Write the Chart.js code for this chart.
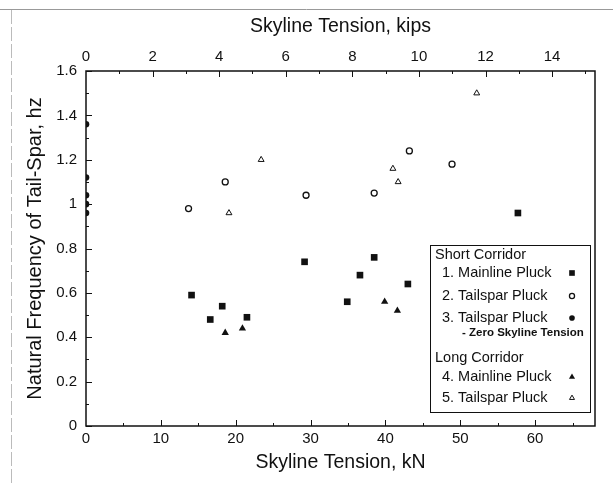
<!DOCTYPE html>
<html>
<head>
<meta charset="utf-8">
<script src="https://cdn.jsdelivr.net/npm/chart.js@4/dist/chart.umd.min.js"></script>
<style>
    html, body { margin: 0; padding: 0; background: #fff; }
    #wrap { width: 613px; height: 483px; }
</style>
</head>
<body>
<div id="wrap"><canvas id="freq-chart" width="613" height="483"></canvas></div>
<script>
// Skyline tension (kN) vs natural frequency (hz)
const shortMainX = [14.1, 16.6, 18.2, 21.5, 29.2, 34.9, 36.6, 38.5, 43.0, 57.7];
const shortMainY = [0.59, 0.48, 0.54, 0.49, 0.74, 0.56, 0.68, 0.76, 0.64, 0.96];
const shortTailX = [13.7, 18.6, 29.4, 38.5, 43.2, 48.9];
const shortTailY = [0.98, 1.10, 1.04, 1.05, 1.24, 1.18];
const zeroTailX = [0, 0, 0, 0, 0];
const zeroTailY = [1.36, 1.12, 1.04, 1.00, 0.96];
const longMainX = [18.6, 20.9, 39.9, 41.6];
const longMainY = [0.42, 0.44, 0.56, 0.52];
const longTailX = [19.1, 23.4, 41.0, 41.7, 52.2];
const longTailY = [0.96, 1.20, 1.16, 1.10, 1.50];

const kNTicks = [0, 10, 20, 30, 40, 50, 60];
const kipTicks = [0, 2, 4, 6, 8, 10, 12, 14];
const hzTicks = [0, 0.2, 0.4, 0.6, 0.8, 1.0, 1.2, 1.4, 1.6];
const KN_PER_KIP = 4.448;
const X_MAX = 68;

const toPoints = (xs, ys) => xs.map((x, i) => ({ x: x, y: ys[i] }));
const INK = '#111';
const FONT = '"Liberation Sans", Arial, sans-serif';

const series = [
    { label: '1. Mainline Pluck', data: toPoints(shortMainX, shortMainY), pointStyle: 'rect', pointRadius: 4.7, backgroundColor: INK, borderColor: INK, borderWidth: 0 },
    { label: '2. Tailspar Pluck', data: toPoints(shortTailX, shortTailY), pointStyle: 'circle', pointRadius: 3, backgroundColor: '#fff', borderColor: INK, borderWidth: 1.3 },
    { label: '3. Tailspar Pluck', data: toPoints(zeroTailX, zeroTailY), pointStyle: 'circle', pointRadius: 3.3, backgroundColor: INK, borderColor: INK, borderWidth: 0 },
    { label: '4. Mainline Pluck', data: toPoints(longMainX, longMainY), pointStyle: 'triangle', pointRadius: 4.2, backgroundColor: INK, borderColor: INK, borderWidth: 0 },
    { label: '5. Tailspar Pluck', data: toPoints(longTailX, longTailY), pointStyle: 'triangle', pointRadius: 3.4, backgroundColor: '#fff', borderColor: INK, borderWidth: 1 }
];

function setTicks(values) {
    return (scale) => { scale.ticks = values.map((v) => ({ value: v })); };
}

// Frame, inward tick marks, page edge lines and the boxed legend
const decorations = {
    id: 'decorations',
    beforeDraw(chart) {
        const ctx = chart.ctx;
        ctx.save();
        ctx.strokeStyle = '#999';
        ctx.lineWidth = 1;
        ctx.beginPath();
        ctx.moveTo(0, 9.5); ctx.lineTo(613, 9.5);
        ctx.stroke();
        ctx.strokeStyle = '#bbb';
        ctx.setLineDash([14, 3]);
        ctx.beginPath();
        ctx.moveTo(11.5, 10); ctx.lineTo(11.5, 483);
        ctx.stroke();
        ctx.restore();
    },
    afterDraw(chart) {
        const ctx = chart.ctx;
        const a = chart.chartArea;
        const sx = chart.scales.x, sx2 = chart.scales.x2, sy = chart.scales.y;
        ctx.save();
        ctx.strokeStyle = INK;
        ctx.lineWidth = 1.5;
        ctx.strokeRect(a.left, a.top, a.right - a.left, a.bottom - a.top);

        ctx.lineWidth = 1;
        ctx.beginPath();
        for (let v = 0; v <= 1.6001; v += 0.1) {
            const y = Math.round(sy.getPixelForValue(v)) + 0.5;
            const len = Math.round(v * 10) % 2 === 0 ? 6 : 3;
            ctx.moveTo(a.left, y); ctx.lineTo(a.left + len, y);
        }
        for (let v = 5; v < X_MAX; v += 5) {
            const x = Math.round(sx.getPixelForValue(v)) + 0.5;
            const len = v % 10 === 0 ? 6 : 3;
            ctx.moveTo(x, a.bottom); ctx.lineTo(x, a.bottom - len);
        }
        for (let v = 1; v <= 15; v += 1) {
            const x = Math.round(sx2.getPixelForValue(v)) + 0.5;
            const len = v % 2 === 0 ? 6 : 3;
            ctx.moveTo(x, a.top); ctx.lineTo(x, a.top + len);
        }
        ctx.stroke();

        // legend box
        const box = { left: 430, top: 245, right: 590, bottom: 412 };
        ctx.fillStyle = '#fff';
        ctx.fillRect(box.left, box.top, box.right - box.left, box.bottom - box.top);
        ctx.lineWidth = 1;
        ctx.strokeStyle = INK;
        ctx.strokeRect(box.left + 0.5, box.top + 0.5, box.right - box.left, box.bottom - box.top);

        ctx.fillStyle = INK;
        ctx.textBaseline = 'middle';
        ctx.textAlign = 'left';
        ctx.font = '14.5px ' + FONT;
        ctx.fillText('Short Corridor', 435, 255);
        ctx.fillText('Long Corridor', 435, 358);
        const rows = [[0, 273], [1, 296], [2, 318], [3, 377], [4, 398]];
        rows.forEach(([i, y]) => {
            const ds = series[i];
            ctx.font = '14.5px ' + FONT;
            ctx.fillStyle = INK;
            ctx.fillText(ds.label, 442, y);
            ctx.fillStyle = ds.backgroundColor;
            ctx.strokeStyle = ds.borderColor;
            ctx.lineWidth = ds.borderWidth;
            Chart.helpers.drawPoint(ctx, {
                pointStyle: ds.pointStyle,
                radius: ds.pointRadius * 0.85,
                borderWidth: ds.borderWidth,
                rotation: 0
            }, 572, y);
        });
        ctx.font = 'bold 11.5px ' + FONT;
        ctx.fillStyle = INK;
        ctx.fillText('- Zero Skyline Tension', 462, 333);
        ctx.restore();
    }
};

const ctx = document.getElementById('freq-chart');
const chart = new Chart(ctx, {
    type: 'scatter',
    data: { datasets: series },
    options: {
        responsive: false,
        animation: false,
        events: [],
        layout: { padding: { left: 0, right: 18, top: 0, bottom: 0 } },
        plugins: {
            legend: { display: false },
            tooltip: { enabled: false }
        },
        scales: {
            x: {
                type: 'linear', position: 'bottom', min: 0, max: X_MAX,
                afterBuildTicks: setTicks(kNTicks),
                afterFit: (s) => { s.height = 57; },
                grid: { display: false, drawTicks: false },
                border: { display: false },
                ticks: { color: INK, font: { family: FONT, size: 15 }, padding: 4, maxRotation: 0, autoSkip: false },
                title: { display: true, text: 'Skyline Tension, kN', color: INK, font: { family: FONT, size: 19.5 }, padding: { top: 0, bottom: 9 } }
            },
            x2: {
                type: 'linear', position: 'top', min: 0, max: X_MAX / KN_PER_KIP,
                afterBuildTicks: setTicks(kipTicks),
                afterFit: (s) => { s.height = 71; },
                grid: { display: false, drawTicks: false },
                border: { display: false },
                ticks: { color: INK, font: { family: FONT, size: 15 }, padding: 5, maxRotation: 0, autoSkip: false },
                title: { display: true, text: 'Skyline Tension, kips', color: INK, font: { family: FONT, size: 19.5 }, padding: { top: 15, bottom: 0 } }
            },
            y: {
                type: 'linear', position: 'left', min: 0, max: 1.6,
                afterBuildTicks: setTicks(hzTicks),
                afterFit: (s) => { s.width = 86; },
                grid: { display: false, drawTicks: false },
                border: { display: false },
                ticks: {
                    color: INK, font: { family: FONT, size: 15 }, padding: 9, autoSkip: false,
                    callback: (v) => String(+v.toFixed(1))
                },
                title: { display: true, text: 'Natural Frequency of Tail-Spar, hz', color: INK, font: { family: FONT, size: 20 }, padding: { top: 23, bottom: 0 } }
            }
        }
    },
    plugins: [decorations]
});
</script>
</body>
</html>
